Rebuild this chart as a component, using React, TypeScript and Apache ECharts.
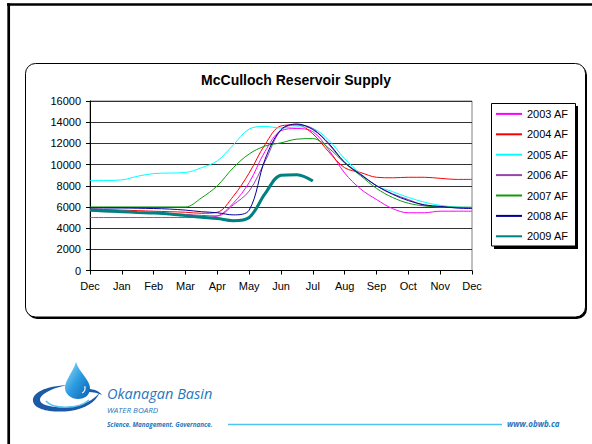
import React, { useEffect, useRef } from "react";
import * as echarts from "echarts";

const months = ["Dec", "Jan", "Feb", "Mar", "Apr", "May", "Jun", "Jul", "Aug", "Sep", "Oct", "Nov", "Dec"];
const yTicks = [0, 2000, 4000, 6000, 8000, 10000, 12000, 14000, 16000];

// values every half month, Dec .. Dec
const af2003 = [5000, 5000, 5000, 5000, 5000, 5000, 5000, 5000, 5150, 6350, 8300, 11250, 13200, 13400, 13100, 11400, 9200, 7700, 6700, 5850, 5450, 5450, 5600, 5600, 5600];
const af2004 = [5800, 5750, 5700, 5650, 5600, 5550, 5500, 5400, 5500, 7000, 9200, 11900, 13650, 13750, 12900, 11200, 9700, 9250, 8800, 8750, 8800, 8800, 8700, 8600, 8600];
const af2005 = [8500, 8500, 8550, 8900, 9150, 9200, 9250, 9700, 10350, 11850, 13350, 13600, 13450, 13550, 13400, 12300, 10550, 9150, 8000, 7450, 6900, 6450, 6150, 6000, 5950];
const af2006 = [5600, 5550, 5500, 5450, 5400, 5350, 5300, 5200, 5150, 6200, 7500, 10300, 13250, 13750, 13400, 11900, 10200, 9100, 8000, 7250, 6700, 6150, 6000, 5950, 5900];
const af2007 = [6000, 6000, 6000, 6000, 6000, 6000, 6000, 6850, 8000, 9700, 11000, 11750, 12050, 12400, 12450, 11550, 10150, 8950, 7750, 6900, 6350, 6100, 6000, 5970, 5970];
const af2008 = [5900, 5900, 5900, 5880, 5850, 5800, 5700, 5550, 5450, 5250, 5700, 10500, 13300, 13830, 13300, 12000, 10200, 9050, 8000, 7200, 6600, 6200, 6050, 5900, 5850];
const af2009 = [5700, 5620, 5550, 5480, 5420, 5330, 5180, 5030, 4900, 4700, 5000, 7250, 9000, 9050, 8450];

const seriesDefs = [
  { name: "2003 AF", data: af2003, color: "#ff00ff", width: 1 },
  { name: "2004 AF", data: af2004, color: "#ff0000", width: 1 },
  { name: "2005 AF", data: af2005, color: "#00ffff", width: 1 },
  { name: "2006 AF", data: af2006, color: "#9944aa", width: 1 },
  { name: "2007 AF", data: af2007, color: "#119911", width: 1 },
  { name: "2008 AF", data: af2008, color: "#000099", width: 1 },
  { name: "2009 AF", data: af2009, color: "#008080", width: 3 },
];

const FONT = "'Liberation Sans', Arial, sans-serif";
const LOGO_FONT = "'Open Sans', 'Noto Sans', sans-serif";

echarts.graphic.registerShape(
  "obwbDrop",
  echarts.graphic.extendPath(
    "M 76,362 C 79,372 90,380 90,388 C 90,395 85,399 78,399 C 71,399 65,394 65,388 C 65,380 73,372 76,362 Z",
    {}
  )
);
echarts.graphic.registerShape(
  "obwbSwirl",
  echarts.graphic.extendPath(
    "M 68,385 C 45,386 32,393 33,401 C 34,410 52,413 70,411 C 85,409 96,402 100,392 C 93,401 82,406 68,407 C 52,408 40,405 40,400 C 40,394 52,388 68,385 Z",
    {}
  )
);
echarts.graphic.registerShape(
  "obwbTail",
  echarts.graphic.extendPath("M 88,389 C 94,389 99,391 102,395 C 98,393 93,392 89,392 Z", {})
);
echarts.graphic.registerShape(
  "obwbInner",
  echarts.graphic.extendPath("M 46,401 C 52,409 78,410 89,400", {})
);

export default function App() {
  const ref = useRef<HTMLDivElement>(null);

  useEffect(() => {
    if (!ref.current) return;
    const chart = echarts.init(ref.current, undefined, { renderer: "svg" });

    const series = seriesDefs.map((s) => ({
      name: s.name,
      type: "line",
      smooth: 0.35,
      symbol: "none",
      data: s.data.map((v, i) => [i * 0.5, v]),
      lineStyle: { color: s.color, width: s.width },
      itemStyle: { color: s.color },
      z: s.width > 1 ? 4 : 3,
    }));

    chart.setOption({
      animation: false,
      backgroundColor: "#ffffff",
      title: {
        text: "McCulloch Reservoir Supply",
        left: "center",
        top: 73,
        padding: 0,
        textStyle: { fontFamily: FONT, fontSize: 14, fontWeight: "bold", color: "#000" },
      },
      grid: {
        left: 90,
        right: 120,
        top: 101,
        bottom: 173.5,
        show: true,
        borderColor: "#808080",
        borderWidth: 1,
        backgroundColor: "transparent",
      },
      legend: {
        orient: "vertical",
        left: 495,
        top: 108.3,
        itemWidth: 26,
        itemHeight: 14,
        itemGap: 9.2,
        padding: 0,
        itemStyle: { opacity: 0 },
        textStyle: { fontFamily: FONT, fontSize: 11, color: "#000" },
        data: seriesDefs.map((s) => s.name),
      },
      xAxis: {
        type: "value",
        min: 0,
        max: 12,
        interval: 1,
        axisLine: { show: true, lineStyle: { color: "#000", width: 1 } },
        axisTick: { show: true, length: 4, lineStyle: { color: "#000" } },
        splitLine: { show: false },
        axisLabel: {
          margin: 10,
          fontFamily: FONT,
          fontSize: 11,
          color: "#000",
          formatter: (v: number) => months[Math.round(v)] ?? "",
        },
      },
      yAxis: {
        type: "value",
        min: yTicks[0],
        max: yTicks[yTicks.length - 1],
        interval: 2000,
        axisLine: { show: true, lineStyle: { color: "#000", width: 1 } },
        axisTick: { show: true, length: 4, lineStyle: { color: "#000" } },
        splitLine: { show: true, lineStyle: { color: "#333333", width: 1 } },
        axisLabel: {
          margin: 9,
          fontFamily: FONT,
          fontSize: 11,
          color: "#000",
          formatter: (v: number) => String(v),
        },
      },
      series,
      graphic: [
        // slide frame
        { type: "line", z: -10, shape: { x1: 7, y1: 4.5, x2: 592, y2: 4.5 }, style: { stroke: "#000", lineWidth: 2.5 } },
        { type: "line", z: -10, shape: { x1: 8.7, y1: 3.3, x2: 8.7, y2: 444 }, style: { stroke: "#000", lineWidth: 2.7 } },
        // chart box
        { type: "rect", z: -10, shape: { x: 27, y: 65, width: 560, height: 254, r: 10 }, style: { fill: "#000" } },
        { type: "rect", z: -9, shape: { x: 25.5, y: 63.5, width: 560, height: 253.5, r: 10 }, style: { fill: "#fff", stroke: "#000", lineWidth: 1 } },
        // legend box
        { type: "rect", z: -8, shape: { x: 494, y: 106, width: 84, height: 143 }, style: { fill: "#000" } },
        { type: "rect", z: -7, shape: { x: 491.5, y: 103.5, width: 84, height: 142.5 }, style: { fill: "#fff", stroke: "#000", lineWidth: 1 } },
        // logo
        { type: "obwbSwirl", x: 0, y: 0, style: { fill: "#1c5aa8" } },
        { type: "obwbTail", x: 0, y: 0, style: { fill: "#1c5aa8" } },
        { type: "obwbInner", x: 0, y: 0, style: { fill: "none", stroke: "#55c4ef", lineWidth: 1.5 } },
        {
          type: "obwbDrop",
          x: 0,
          y: 0,
          style: {
            fill: {
              type: "linear",
              x: 0,
              y: 0,
              x2: 1,
              y2: 1,
              colorStops: [
                { offset: 0, color: "#9fe0fa" },
                { offset: 0.5, color: "#2b9be0" },
                { offset: 1, color: "#0a5fb4" },
              ],
            },
          },
        },
        { type: "arc", shape: { cx: 79, cy: 388, r: 6, startAngle: -0.3, endAngle: 1.0 }, style: { stroke: "#ffffff", lineWidth: 1.2, fill: "none" } },
        {
          type: "text",
          x: 107,
          y: 393,
          style: { text: "Okanagan Basin", fontFamily: LOGO_FONT, fontSize: 14.5, fontStyle: "italic", fill: "#1f78be", textVerticalAlign: "middle" },
        },
        {
          type: "text",
          x: 107,
          y: 409,
          style: { text: "WATER BOARD", fontFamily: LOGO_FONT, fontSize: 8, fontStyle: "italic", fill: "#1f78be", textVerticalAlign: "middle" },
        },
        {
          type: "text",
          x: 107,
          y: 424,
          style: { text: "Science. Management. Governance.", fontFamily: LOGO_FONT, fontSize: 6.3, fontStyle: "italic", fontWeight: "bold", fill: "#1f78be", textVerticalAlign: "middle" },
        },
        { type: "line", shape: { x1: 228, y1: 424.5, x2: 502, y2: 424.5 }, style: { stroke: "#4fc3f0", lineWidth: 1.3 } },
        {
          type: "text",
          x: 507,
          y: 423,
          style: { text: "www.obwb.ca", fontFamily: LOGO_FONT, fontSize: 8, fontStyle: "italic", fontWeight: "bold", fill: "#1f78be", textVerticalAlign: "middle" },
        },
      ],
    });

    return () => chart.dispose();
  }, []);

  return <div ref={ref} style={{ position: "fixed", left: 0, top: 0, width: 592, height: 444 }} />;
}
